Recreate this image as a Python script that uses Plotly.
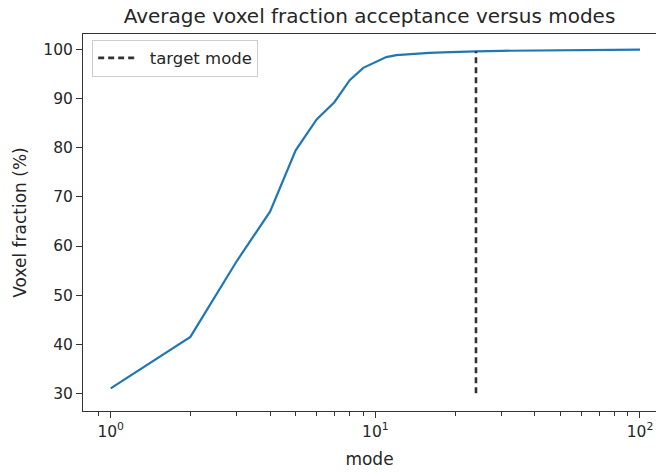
import plotly.graph_objects as go

# Average voxel fraction accepted for each number of modes
modes = [1, 2, 3, 4, 5, 6, 7, 8, 9, 10, 11, 12, 14, 16, 18, 20, 24, 30, 40, 50, 60, 70, 80, 90, 100]
voxel_fraction = [31.0, 41.5, 57.0, 67.0, 79.5, 85.8, 89.3, 93.8, 96.3, 97.4, 98.5, 98.9,
                  99.2, 99.35, 99.45, 99.55, 99.68, 99.78, 99.85, 99.9, 99.93, 99.95, 99.97, 99.98, 100.0]

target_mode = 24
target_span = [30.0, 99.68]

major_ticks = [1, 10, 100]
major_text = ["10<sup>0</sup>", "10<sup>1</sup>", "10<sup>2</sup>"]
minor_ticks = [0.9, 2, 3, 4, 5, 6, 7, 8, 9, 20, 30, 40, 50, 60, 70, 80, 90]
y_ticks = [30, 40, 50, 60, 70, 80, 90, 100]

font_family = "DejaVu Sans"
axis_color = "#333333"
text_color = "#262626"

fig = go.Figure()
fig.add_trace(go.Scatter(
    x=modes, y=voxel_fraction, mode="lines",
    line=dict(color="#1f77b4", width=2.2),
    showlegend=False, hoverinfo="skip",
))
fig.add_trace(go.Scatter(
    x=[target_mode, target_mode], y=target_span, mode="lines",
    line=dict(color="#333333", width=2.6, dash="6px,4px"),
    name="\u00a0\u00a0target mode",
))

fig.update_layout(
    width=657, height=475,
    margin=dict(l=83, r=1, t=34, b=64),
    paper_bgcolor="white", plot_bgcolor="white",
    font=dict(family=font_family, size=14, color=text_color),
    title=dict(text="Average voxel fraction acceptance versus modes",
               x=0.5, xref="paper", xanchor="center",
               y=1 - 16 / 475, yanchor="middle",
               font=dict(size=20, color=text_color)),
    legend=dict(x=0.016, y=0.985, xanchor="left", yanchor="top",
                itemwidth=36,
                bgcolor="rgba(255,255,255,0.8)", bordercolor="#cccccc", borderwidth=1,
                font=dict(size=16.5, color=text_color)),
)

fig.update_xaxes(
    type="log", range=[-0.1047, 2.0605],
    tickvals=major_ticks, ticktext=major_text,
    ticks="outside", ticklen=6, tickwidth=1, tickcolor=axis_color,
    minor=dict(tickvals=minor_ticks, ticks="outside", ticklen=3.5, tickwidth=1, tickcolor=axis_color, showgrid=False),
    showgrid=False, zeroline=False,
    showline=True, linecolor=axis_color, linewidth=1, mirror=True,
    title=dict(text="mode", standoff=13, font=dict(size=17)),
    tickfont=dict(size=15.5),
)
fig.update_yaxes(
    range=[26.4, 103.2],
    tickvals=y_ticks,
    ticks="outside", ticklen=6, tickwidth=1, tickcolor=axis_color,
    showgrid=False, zeroline=False,
    showline=True, linecolor=axis_color, linewidth=1, mirror=False,
    title=dict(text="Voxel fraction (%)", standoff=12, font=dict(size=17)),
    tickfont=dict(size=15.5),
)

fig.write_html("out.html")
